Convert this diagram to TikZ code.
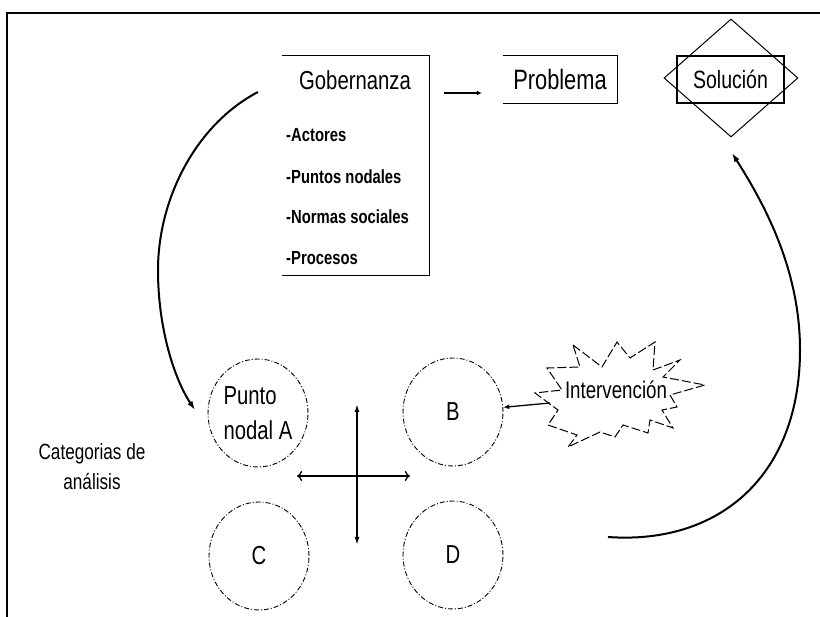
\documentclass[tikz,border=0pt]{standalone}
\usepackage{fontspec}
\setmainfont{Liberation Sans}[FakeStretch=0.78]
\usetikzlibrary{shapes.geometric,arrows.meta}

\tikzset{
	nodo/.style={ellipse, draw, line width=0.9pt, dash pattern=on 5pt off 2pt on 1pt off 2pt,
		minimum width=100pt, minimum height=108pt, inner sep=0pt, font=\fontsize{26}{35}\selectfont},
	item/.style={anchor=west, inner sep=0pt, font=\bfseries\fontsize{19}{22}\selectfont},
	caja/.style={minimum width=#1, minimum height=47pt, inner sep=0pt},
	curva/.style={line width=2pt, -{Latex[length=9pt,width=6pt]}},
}

\begin{document}
\begin{tikzpicture}[x=1pt,y=-1pt]
\useasboundingbox (0,0) rectangle (820,617);

\draw[line width=1.3pt] (7,617)--(7,13)--(820,13);

% Gobernanza
\node[minimum width=147pt, minimum height=219pt] (gob) at (356,165.5) {};
\draw[line width=1.3pt] (gob.north west)--(gob.north east)--(gob.south east)--(gob.south west);
\node[font=\fontsize{26}{30}\selectfont] (gobtit) at (355,80) {Gobernanza};
\foreach \t/\y in {-Actores/135, -Puntos nodales/177, -Normas sociales/217, -Procesos/258}{
	\node[item] (item\y) at (286,\y) {\t};
}

% Problema
\node[caja=114pt, font=\fontsize{28}{30}\selectfont] (prob) at (560,79.5) {Problema};
\draw[line width=1.3pt] (prob.north west)--(prob.north east)--(prob.south east)--(prob.south west);
\draw[line width=1.3pt, -{Latex[length=5pt,width=5pt]}, shorten <=14pt, shorten >=21pt]
	([yshift=-13.5pt]prob.west -| gob.east) -- ([yshift=-13.5pt]prob.west);

% Solucion
\node[diamond, draw, line width=1pt, minimum width=134pt, minimum height=118pt, inner sep=0pt] (rombo) at (731,78) {};
\node[caja=107pt, draw, line width=1.3pt, font=\fontsize{25}{30}\selectfont] (sol) at (730.5,79.5) {Solución};

% puntos nodales
\node[nodo, align=left] (nodoA) at (258,413) {Punto\\nodal A};
\node[nodo] (nodoB) at (453,412) {B};
\node[nodo] (nodoC) at (259,556) {C};
\node[nodo] (nodoD) at (453,555) {D};

\node[align=center, font=\fontsize{22}{30}\selectfont] (categ) at (92,467) {Categorias de\\análisis};

\coordinate (izq) at (297,476);
\coordinate (der) at (410,476);
\coordinate (arr) at (357,404);
\coordinate (aba) at (357,545);
\draw[line width=1.3pt, {To[length=5pt,width=10pt]}-{To[length=5pt,width=10pt]}] (izq) -- (der);
\draw[line width=1.6pt, {Latex[length=8pt,width=5pt]}-{Latex[length=8pt,width=5pt]}] (arr) -- (aba);

% intervencion
\draw[line width=1pt, dash pattern=on 9pt off 3pt] (573,345) -- (602,367) -- (617,342) -- (630,358)
	-- (655,342) -- (653,370) -- (680,360) -- (663,377) -- (705,385) -- (670,395) -- (677,407)
	-- (662,410) -- (673,428) -- (650,420) -- (648,433) -- (623,425) -- (615,437) -- (600,432)
	-- (568,447) -- (577,435) -- (548,425) -- (558,410) -- (535,393) -- (562,390) -- (547,368)
	-- (580,367) -- cycle;
\node[font=\fontsize{24}{28}\selectfont] (interv) at (616,390) {Intervención};
\coordinate (punta) at (550,403);
\draw[line width=1.3pt, -{Latex[length=6pt,width=5pt]}] (punta) -- (nodoB);

% flechas curvas
\coordinate (ini1) at (258,92);
\coordinate (fin1) at (195,410);
\draw[curva] (ini1) .. controls (195,125) and (158,200) .. (158,270) .. controls (158,330) and (175,380) .. (fin1);
\coordinate (ini2) at (608,537);
\coordinate (fin2) at (732,153);
\draw[curva] (ini2) .. controls (720,545) and (800,475) .. (800,350) .. controls (800,270) and (765,205) .. (fin2);

\end{tikzpicture}
\end{document}
